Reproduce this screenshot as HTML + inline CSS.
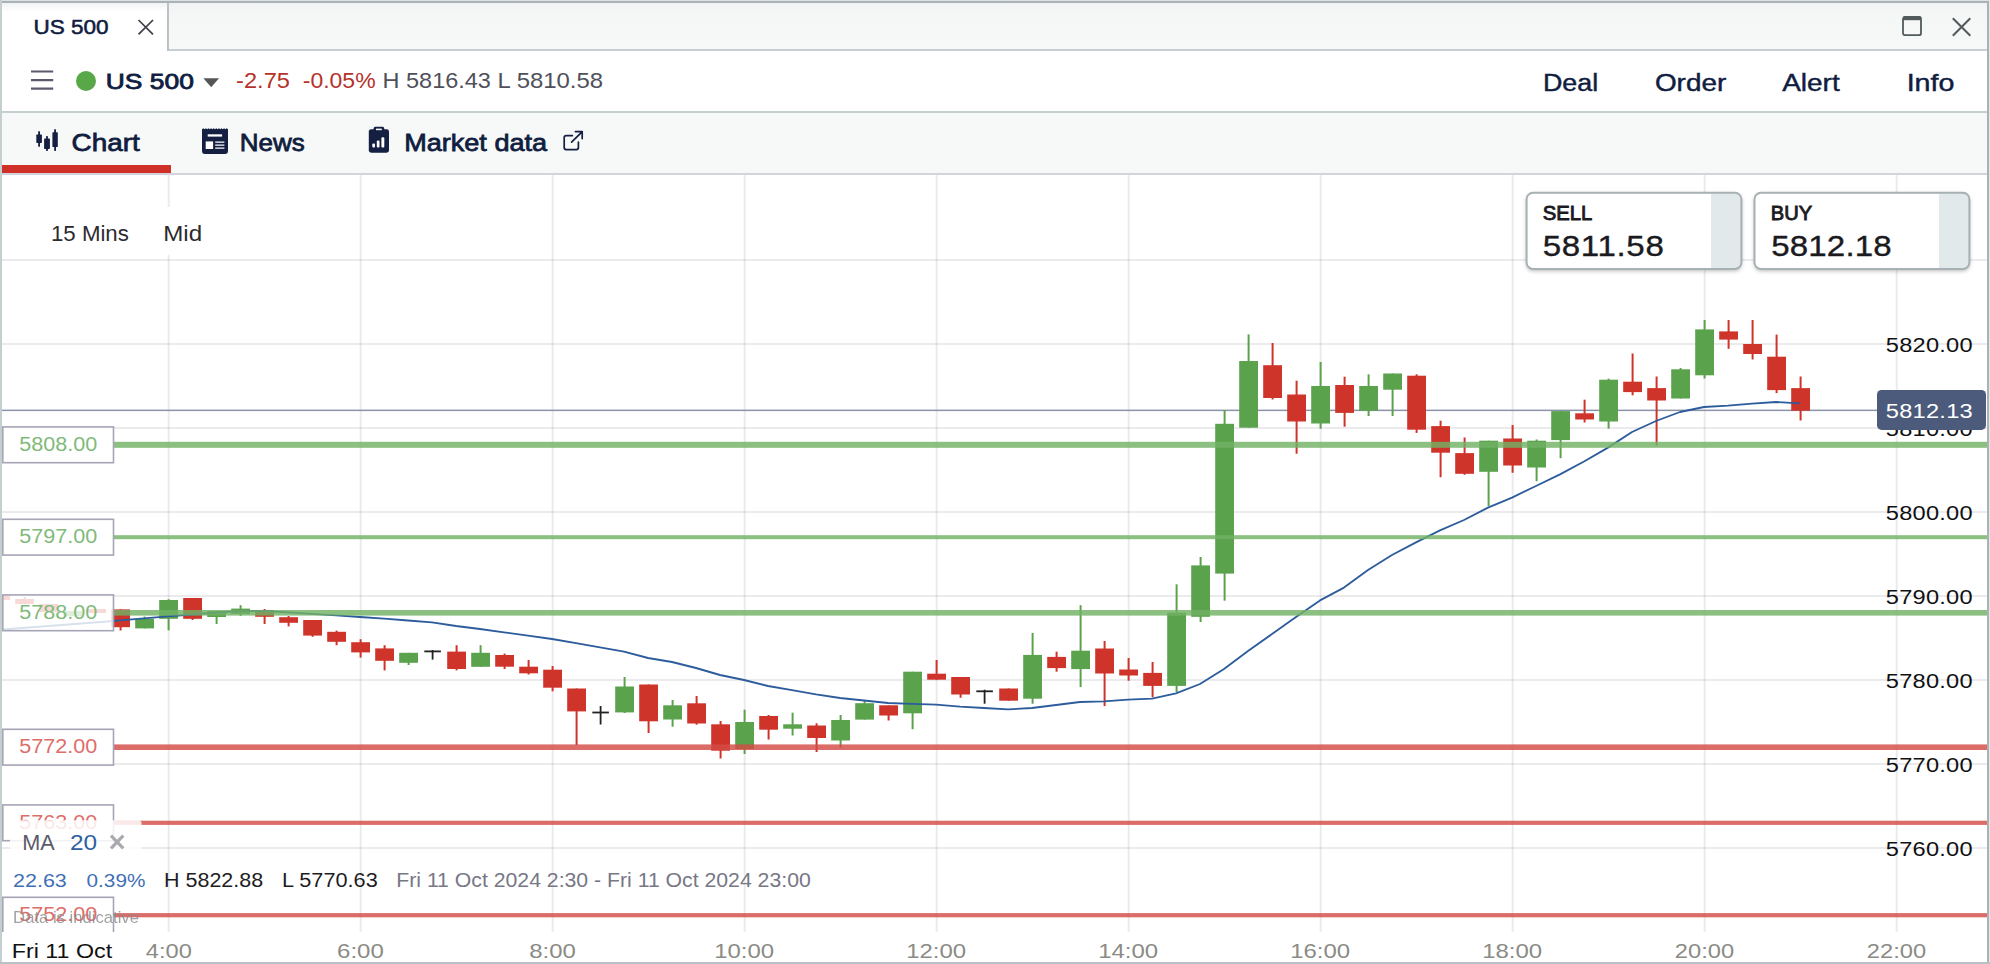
<!DOCTYPE html>
<html><head><meta charset="utf-8"><title>US 500</title>
<style>
html,body{margin:0;padding:0;background:#fff;}
body{width:1990px;height:964px;overflow:hidden;position:relative;font-family:"Liberation Sans",sans-serif;}
.abs{position:absolute;}
svg text{font-family:"Liberation Sans",sans-serif;}
.chart{position:absolute;left:0;top:0;}
.tabbar{left:0;top:0;width:1990px;height:51px;background:linear-gradient(#eef1f2 0,#f5f7f7 14px,#f7f9f9 100%);}
.tabbar .bb{position:absolute;left:167px;right:0;top:49px;height:2px;background:#c8cfd2;}
.tab1{left:2px;top:3px;width:165px;height:48px;background:linear-gradient(#f0f3f4,#fff 9px);border-right:2px solid #b9c2c5;}
.row2{left:0;top:51px;width:1990px;height:60px;background:#fff;border-bottom:2px solid #c5cfd0;}
.row3{left:0;top:113px;width:1990px;height:60px;background:#f7f9f8;border-bottom:2px solid #d3d3d9;}
.frame-l{left:0;top:0;width:1.9px;height:964px;background:#c5cfd0;}
.frame-t{left:0;top:0;width:1990px;height:3px;background:linear-gradient(#dce2e4 0,#dce2e4 1px,#aab2b5 1.2px,#aab2b5 100%);}
.frame-r{left:1987.2px;top:2px;width:1.6px;height:962px;background:#aab2b6;}
.frame-r2{left:1988.8px;top:0;width:1.2px;height:964px;background:#e4e8ea;}
.frame-b{left:0;top:962px;width:1990px;height:2px;background:#b9c1c4;}
</style></head><body>
<svg class="chart" width="1990" height="964" viewBox="0 0 1990 964">
<g stroke="rgba(60,60,90,0.10)" stroke-width="2" fill="none">
<line x1="2" x2="1987" y1="260.0" y2="260.0"/>
<line x1="2" x2="1987" y1="344.0" y2="344.0"/>
<line x1="2" x2="1987" y1="428.0" y2="428.0"/>
<line x1="2" x2="1987" y1="512.0" y2="512.0"/>
<line x1="2" x2="1987" y1="596.0" y2="596.0"/>
<line x1="2" x2="1987" y1="680.0" y2="680.0"/>
<line x1="2" x2="1987" y1="764.0" y2="764.0"/>
<line x1="2" x2="1987" y1="848.0" y2="848.0"/>
<line x1="168.7" x2="168.7" y1="175" y2="932"/>
<line x1="360.7" x2="360.7" y1="175" y2="932"/>
<line x1="552.7" x2="552.7" y1="175" y2="932"/>
<line x1="744.7" x2="744.7" y1="175" y2="932"/>
<line x1="936.7" x2="936.7" y1="175" y2="932"/>
<line x1="1128.7" x2="1128.7" y1="175" y2="932"/>
<line x1="1320.7" x2="1320.7" y1="175" y2="932"/>
<line x1="1512.7" x2="1512.7" y1="175" y2="932"/>
<line x1="1704.7" x2="1704.7" y1="175" y2="932"/>
<line x1="1896.7" x2="1896.7" y1="175" y2="932"/>
</g>
<rect x="2" y="409.6" width="1876" height="1.5" fill="#8b93a8"/>
<rect x="-0.4" y="595.0" width="2" height="5.0" fill="#cf342b"/>
<rect x="-8.8" y="595.0" width="18.8" height="5.0" fill="#cf342b"/>
<rect x="23.6" y="597.0" width="2" height="7.0" fill="#cf342b"/>
<rect x="15.2" y="599.0" width="18.8" height="5.0" fill="#cf342b"/>
<rect x="47.6" y="604.0" width="2" height="8.0" fill="#cf342b"/>
<rect x="39.2" y="604.0" width="18.8" height="8.0" fill="#cf342b"/>
<rect x="71.6" y="611.0" width="2" height="5.0" fill="#5ba24c"/>
<rect x="63.2" y="611.0" width="18.8" height="5.0" fill="#5ba24c"/>
<rect x="95.6" y="609.0" width="2" height="4.0" fill="#cf342b"/>
<rect x="87.2" y="609.0" width="18.8" height="4.0" fill="#cf342b"/>
<rect x="119.6" y="609.4" width="2" height="21.1" fill="#cf342b"/>
<rect x="111.2" y="609.4" width="18.8" height="17.8" fill="#cf342b"/>
<rect x="143.6" y="616.6" width="2" height="11.8" fill="#5ba24c"/>
<rect x="135.2" y="618.8" width="18.8" height="9.6" fill="#5ba24c"/>
<rect x="167.6" y="599.2" width="2" height="31.2" fill="#5ba24c"/>
<rect x="159.2" y="600.0" width="18.8" height="18.8" fill="#5ba24c"/>
<rect x="191.6" y="598.0" width="2" height="22.0" fill="#cf342b"/>
<rect x="183.2" y="598.0" width="18.8" height="20.8" fill="#cf342b"/>
<rect x="215.6" y="611.0" width="2" height="13.0" fill="#5ba24c"/>
<rect x="207.2" y="611.0" width="18.8" height="6.0" fill="#5ba24c"/>
<rect x="239.6" y="605.2" width="2" height="10.6" fill="#5ba24c"/>
<rect x="231.2" y="608.6" width="18.8" height="5.4" fill="#5ba24c"/>
<rect x="263.6" y="609.0" width="2" height="15.0" fill="#cf342b"/>
<rect x="255.2" y="610.0" width="18.8" height="6.8" fill="#cf342b"/>
<rect x="287.6" y="616.0" width="2" height="10.4" fill="#cf342b"/>
<rect x="279.2" y="617.2" width="18.8" height="5.6" fill="#cf342b"/>
<rect x="311.6" y="620.0" width="2" height="16.8" fill="#cf342b"/>
<rect x="303.2" y="620.0" width="18.8" height="15.6" fill="#cf342b"/>
<rect x="335.6" y="630.6" width="2" height="14.6" fill="#cf342b"/>
<rect x="327.2" y="631.8" width="18.8" height="10.0" fill="#cf342b"/>
<rect x="359.6" y="639.2" width="2" height="18.4" fill="#cf342b"/>
<rect x="351.2" y="642.2" width="18.8" height="10.2" fill="#cf342b"/>
<rect x="383.6" y="645.2" width="2" height="25.2" fill="#cf342b"/>
<rect x="375.2" y="648.4" width="18.8" height="12.4" fill="#cf342b"/>
<rect x="407.6" y="652.8" width="2" height="12.2" fill="#5ba24c"/>
<rect x="399.2" y="652.8" width="18.8" height="10.0" fill="#5ba24c"/>
<rect x="424.3" y="650.5" width="16.6" height="1.8" fill="#222"/>
<rect x="431.7" y="650.0" width="1.8" height="9.6" fill="#222"/>
<rect x="455.6" y="645.2" width="2" height="25.2" fill="#cf342b"/>
<rect x="447.2" y="651.6" width="18.8" height="17.4" fill="#cf342b"/>
<rect x="479.6" y="645.2" width="2" height="21.6" fill="#5ba24c"/>
<rect x="471.2" y="652.8" width="18.8" height="14.0" fill="#5ba24c"/>
<rect x="503.6" y="653.6" width="2" height="15.4" fill="#cf342b"/>
<rect x="495.2" y="655.0" width="18.8" height="11.7" fill="#cf342b"/>
<rect x="527.6" y="660.0" width="2" height="14.5" fill="#cf342b"/>
<rect x="519.2" y="666.7" width="18.8" height="6.6" fill="#cf342b"/>
<rect x="551.6" y="666.0" width="2" height="25.3" fill="#cf342b"/>
<rect x="543.2" y="669.7" width="18.8" height="18.0" fill="#cf342b"/>
<rect x="575.6" y="688.5" width="2" height="56.5" fill="#cf342b"/>
<rect x="567.2" y="688.5" width="18.8" height="22.9" fill="#cf342b"/>
<rect x="592.3" y="711.6" width="16.6" height="1.8" fill="#222"/>
<rect x="599.7" y="706.0" width="1.8" height="18.5" fill="#222"/>
<rect x="623.6" y="677.0" width="2" height="36.0" fill="#5ba24c"/>
<rect x="615.2" y="686.5" width="18.8" height="25.9" fill="#5ba24c"/>
<rect x="647.6" y="684.5" width="2" height="48.5" fill="#cf342b"/>
<rect x="639.2" y="684.5" width="18.8" height="36.8" fill="#cf342b"/>
<rect x="671.6" y="700.0" width="2" height="26.7" fill="#5ba24c"/>
<rect x="663.2" y="705.3" width="18.8" height="14.2" fill="#5ba24c"/>
<rect x="695.6" y="696.0" width="2" height="28.7" fill="#cf342b"/>
<rect x="687.2" y="703.3" width="18.8" height="20.2" fill="#cf342b"/>
<rect x="719.6" y="721.0" width="2" height="37.5" fill="#cf342b"/>
<rect x="711.2" y="724.3" width="18.8" height="26.4" fill="#cf342b"/>
<rect x="743.6" y="709.7" width="2" height="44.3" fill="#5ba24c"/>
<rect x="735.2" y="722.0" width="18.8" height="27.0" fill="#5ba24c"/>
<rect x="767.6" y="715.0" width="2" height="24.5" fill="#cf342b"/>
<rect x="759.2" y="716.0" width="18.8" height="13.7" fill="#cf342b"/>
<rect x="791.6" y="712.7" width="2" height="22.8" fill="#5ba24c"/>
<rect x="783.2" y="724.3" width="18.8" height="4.4" fill="#5ba24c"/>
<rect x="815.6" y="723.3" width="2" height="28.7" fill="#cf342b"/>
<rect x="807.2" y="725.5" width="18.8" height="12.5" fill="#cf342b"/>
<rect x="839.6" y="715.0" width="2" height="32.7" fill="#5ba24c"/>
<rect x="831.2" y="720.0" width="18.8" height="20.5" fill="#5ba24c"/>
<rect x="863.6" y="701.0" width="2" height="18.6" fill="#5ba24c"/>
<rect x="855.2" y="703.2" width="18.8" height="16.4" fill="#5ba24c"/>
<rect x="887.6" y="705.3" width="2" height="15.2" fill="#cf342b"/>
<rect x="879.2" y="705.3" width="18.8" height="10.2" fill="#cf342b"/>
<rect x="911.6" y="671.7" width="2" height="57.5" fill="#5ba24c"/>
<rect x="903.2" y="671.7" width="18.8" height="41.6" fill="#5ba24c"/>
<rect x="935.6" y="660.0" width="2" height="19.7" fill="#cf342b"/>
<rect x="927.2" y="673.7" width="18.8" height="6.0" fill="#cf342b"/>
<rect x="959.6" y="677.0" width="2" height="20.7" fill="#cf342b"/>
<rect x="951.2" y="677.0" width="18.8" height="17.5" fill="#cf342b"/>
<rect x="976.3" y="690.4" width="16.6" height="1.8" fill="#222"/>
<rect x="983.7" y="689.7" width="1.8" height="14.0" fill="#222"/>
<rect x="1007.6" y="688.5" width="2" height="12.2" fill="#cf342b"/>
<rect x="999.2" y="688.5" width="18.8" height="12.2" fill="#cf342b"/>
<rect x="1031.6" y="632.9" width="2" height="70.8" fill="#5ba24c"/>
<rect x="1023.2" y="654.9" width="18.8" height="43.8" fill="#5ba24c"/>
<rect x="1055.6" y="651.7" width="2" height="20.0" fill="#cf342b"/>
<rect x="1047.2" y="656.9" width="18.8" height="11.2" fill="#cf342b"/>
<rect x="1079.6" y="605.2" width="2" height="81.9" fill="#5ba24c"/>
<rect x="1071.2" y="650.7" width="18.8" height="18.4" fill="#5ba24c"/>
<rect x="1103.6" y="641.0" width="2" height="65.1" fill="#cf342b"/>
<rect x="1095.2" y="648.5" width="18.8" height="25.0" fill="#cf342b"/>
<rect x="1127.6" y="658.0" width="2" height="22.7" fill="#cf342b"/>
<rect x="1119.2" y="669.5" width="18.8" height="6.0" fill="#cf342b"/>
<rect x="1151.6" y="662.0" width="2" height="35.1" fill="#cf342b"/>
<rect x="1143.2" y="672.9" width="18.8" height="13.0" fill="#cf342b"/>
<rect x="1175.6" y="584.3" width="2" height="107.8" fill="#5ba24c"/>
<rect x="1167.2" y="612.6" width="18.8" height="73.3" fill="#5ba24c"/>
<rect x="1199.6" y="557.0" width="2" height="65.0" fill="#5ba24c"/>
<rect x="1191.2" y="565.4" width="18.8" height="51.4" fill="#5ba24c"/>
<rect x="1223.6" y="410.2" width="2" height="190.5" fill="#5ba24c"/>
<rect x="1215.2" y="423.8" width="18.8" height="149.8" fill="#5ba24c"/>
<rect x="1247.6" y="334.4" width="2" height="93.3" fill="#5ba24c"/>
<rect x="1239.2" y="361.0" width="18.8" height="66.7" fill="#5ba24c"/>
<rect x="1271.6" y="343.0" width="2" height="56.5" fill="#cf342b"/>
<rect x="1263.2" y="365.2" width="18.8" height="32.8" fill="#cf342b"/>
<rect x="1295.6" y="380.7" width="2" height="73.0" fill="#cf342b"/>
<rect x="1287.2" y="394.5" width="18.8" height="27.0" fill="#cf342b"/>
<rect x="1319.6" y="362.0" width="2" height="66.7" fill="#5ba24c"/>
<rect x="1311.2" y="386.0" width="18.8" height="37.5" fill="#5ba24c"/>
<rect x="1343.6" y="376.7" width="2" height="50.0" fill="#cf342b"/>
<rect x="1335.2" y="385.0" width="18.8" height="27.9" fill="#cf342b"/>
<rect x="1367.6" y="374.3" width="2" height="41.7" fill="#5ba24c"/>
<rect x="1359.2" y="386.0" width="18.8" height="24.7" fill="#5ba24c"/>
<rect x="1391.6" y="373.5" width="2" height="42.5" fill="#5ba24c"/>
<rect x="1383.2" y="373.5" width="18.8" height="16.2" fill="#5ba24c"/>
<rect x="1415.6" y="374.3" width="2" height="58.6" fill="#cf342b"/>
<rect x="1407.2" y="375.7" width="18.8" height="54.0" fill="#cf342b"/>
<rect x="1439.6" y="420.7" width="2" height="56.5" fill="#cf342b"/>
<rect x="1431.2" y="426.1" width="18.8" height="26.6" fill="#cf342b"/>
<rect x="1463.6" y="437.5" width="2" height="37.3" fill="#cf342b"/>
<rect x="1455.2" y="453.1" width="18.8" height="20.7" fill="#cf342b"/>
<rect x="1487.6" y="440.7" width="2" height="65.5" fill="#5ba24c"/>
<rect x="1479.2" y="440.7" width="18.8" height="31.1" fill="#5ba24c"/>
<rect x="1511.6" y="425.0" width="2" height="47.8" fill="#cf342b"/>
<rect x="1503.2" y="438.5" width="18.8" height="27.0" fill="#cf342b"/>
<rect x="1535.6" y="439.5" width="2" height="41.7" fill="#5ba24c"/>
<rect x="1527.2" y="440.7" width="18.8" height="26.8" fill="#5ba24c"/>
<rect x="1559.6" y="411.1" width="2" height="47.1" fill="#5ba24c"/>
<rect x="1551.2" y="411.1" width="18.8" height="29.0" fill="#5ba24c"/>
<rect x="1583.6" y="399.7" width="2" height="22.8" fill="#cf342b"/>
<rect x="1575.2" y="413.3" width="18.8" height="6.2" fill="#cf342b"/>
<rect x="1607.6" y="378.7" width="2" height="50.0" fill="#5ba24c"/>
<rect x="1599.2" y="379.7" width="18.8" height="41.8" fill="#5ba24c"/>
<rect x="1631.6" y="353.5" width="2" height="41.8" fill="#cf342b"/>
<rect x="1623.2" y="381.7" width="18.8" height="10.4" fill="#cf342b"/>
<rect x="1655.6" y="376.5" width="2" height="69.0" fill="#cf342b"/>
<rect x="1647.2" y="388.1" width="18.8" height="12.4" fill="#cf342b"/>
<rect x="1679.6" y="368.0" width="2" height="30.5" fill="#5ba24c"/>
<rect x="1671.2" y="369.3" width="18.8" height="29.2" fill="#5ba24c"/>
<rect x="1703.6" y="320.0" width="2" height="58.5" fill="#5ba24c"/>
<rect x="1695.2" y="329.4" width="18.8" height="45.9" fill="#5ba24c"/>
<rect x="1727.6" y="320.0" width="2" height="28.8" fill="#cf342b"/>
<rect x="1719.2" y="331.4" width="18.8" height="8.2" fill="#cf342b"/>
<rect x="1751.6" y="320.0" width="2" height="39.5" fill="#cf342b"/>
<rect x="1743.2" y="344.0" width="18.8" height="10.0" fill="#cf342b"/>
<rect x="1775.6" y="334.6" width="2" height="58.5" fill="#cf342b"/>
<rect x="1767.2" y="356.7" width="18.8" height="33.4" fill="#cf342b"/>
<rect x="1799.6" y="376.5" width="2" height="44.0" fill="#cf342b"/>
<rect x="1791.2" y="388.1" width="18.8" height="22.6" fill="#cf342b"/>
<polyline points="2.5,629.5 114,621 120,620.3 168,616.4 192,614.5 216,612.5 240,611 264,611 288,612.3 312,613.8 336,615.3 360,617 384,618.7 408,620.5 432,622.4 456,626 480,629 504,632.3 528,635.6 552,639 576,643.2 600,647.4 624,651.6 648,658 672,662 696,668 720,675 744,680 768,686 792,690.2 816,694.4 840,698 864,700.5 888,703 912,703.8 936,704.6 960,706.6 984,708 1008,709.4 1032,708 1056,705 1080,702 1104,701.4 1128,699.6 1152,698.6 1176,693.4 1200,684 1224,669 1248,651 1272,634 1296,617 1320,600.4 1344,587.6 1368,570 1392,555 1416,542.4 1440,530.4 1464,520 1488,507.6 1512,497.6 1536,486 1560,474.4 1584,461.5 1608,447.6 1632,432 1656,421 1680,412 1704,407 1728,405.6 1752,403.6 1776,402 1800,403.4" fill="none" stroke="#2d5c9c" stroke-width="1.85" stroke-linejoin="round"/>
<rect x="114" y="441.8" width="1873.5" height="6" fill="rgba(114,178,101,0.82)"/>
<rect x="114" y="535.2" width="1873.5" height="4" fill="rgba(114,178,101,0.82)"/>
<rect x="114" y="610.0" width="1873.5" height="5.6" fill="rgba(114,178,101,0.82)"/>
<rect x="114" y="744.4" width="1873.5" height="5.6" fill="rgba(211,76,71,0.82)"/>
<rect x="114" y="820.7" width="1873.5" height="4.2" fill="rgba(211,76,71,0.82)"/>
<rect x="114" y="913.1" width="1873.5" height="4.2" fill="rgba(211,76,71,0.82)"/>
<rect x="2.8" y="426.9" width="110.7" height="35.8" fill="rgba(255,255,255,0.82)" stroke="#a5a5b5" stroke-width="1.6"/>
<text transform="matrix(1.1066 0 0 1 19.14 450.70)" font-size="19.52" fill="#7fba7a">5808.00</text>
<rect x="2.8" y="519.3" width="110.7" height="35.8" fill="rgba(255,255,255,0.82)" stroke="#a5a5b5" stroke-width="1.6"/>
<text transform="matrix(1.1066 0 0 1 19.14 543.10)" font-size="19.52" fill="#7fba7a">5797.00</text>
<rect x="2.8" y="594.9" width="110.7" height="35.8" fill="rgba(255,255,255,0.82)" stroke="#a5a5b5" stroke-width="1.6"/>
<text transform="matrix(1.1066 0 0 1 19.14 618.70)" font-size="19.52" fill="#7fba7a">5788.00</text>
<rect x="2.8" y="729.3" width="110.7" height="35.8" fill="rgba(255,255,255,0.82)" stroke="#a5a5b5" stroke-width="1.6"/>
<text transform="matrix(1.1066 0 0 1 19.14 753.10)" font-size="19.52" fill="#de6e69">5772.00</text>
<rect x="2.8" y="804.9" width="110.7" height="35.8" fill="rgba(255,255,255,0.82)" stroke="#a5a5b5" stroke-width="1.6"/>
<text transform="matrix(1.1066 0 0 1 19.14 828.70)" font-size="19.52" fill="#de6e69">5763.00</text>
<rect x="2.8" y="897.3" width="110.7" height="35.8" fill="rgba(255,255,255,0.82)" stroke="#a5a5b5" stroke-width="1.6"/>
<text transform="matrix(1.1066 0 0 1 19.14 921.10)" font-size="19.52" fill="#de6e69">5752.00</text>
<rect x="10" y="820.3" width="131.5" height="36" rx="3" fill="rgba(255,255,255,0.85)"/>
<rect x="2" y="932" width="1985.5" height="30" fill="#fff"/>
<rect x="10" y="207" width="212" height="47.7" fill="rgba(255,255,255,0.96)"/>
<text transform="matrix(1.1500 0 0 1 1885.86 351.60)" font-size="20.53" fill="#111" letter-spacing="0.205">5820.00</text>
<text transform="matrix(1.1500 0 0 1 1885.86 435.60)" font-size="20.53" fill="#111" letter-spacing="0.205">5810.00</text>
<text transform="matrix(1.1500 0 0 1 1885.86 519.60)" font-size="20.53" fill="#111" letter-spacing="0.205">5800.00</text>
<text transform="matrix(1.1500 0 0 1 1885.86 603.60)" font-size="20.53" fill="#111" letter-spacing="0.205">5790.00</text>
<text transform="matrix(1.1500 0 0 1 1885.86 687.60)" font-size="20.53" fill="#111" letter-spacing="0.205">5780.00</text>
<text transform="matrix(1.1500 0 0 1 1885.86 771.60)" font-size="20.53" fill="#111" letter-spacing="0.205">5770.00</text>
<text transform="matrix(1.1500 0 0 1 1885.86 855.60)" font-size="20.53" fill="#111" letter-spacing="0.205">5760.00</text>
<rect x="1877" y="389.9" width="109" height="40" rx="4.6" fill="#4c5b7b"/>
<text transform="matrix(1.1500 0 0 1 1885.86 417.60)" font-size="20.53" fill="#fff" letter-spacing="0.217">5812.13</text>
<text transform="matrix(1.1223 0 0 1 145.75 957.60)" font-size="21.10" fill="#8b8b86">4:00</text>
<text transform="matrix(1.1384 0 0 1 337.10 957.60)" font-size="21.10" fill="#8b8b86">6:00</text>
<text transform="matrix(1.1344 0 0 1 529.26 957.60)" font-size="21.10" fill="#8b8b86">8:00</text>
<text transform="matrix(1.1358 0 0 1 714.16 957.60)" font-size="21.10" fill="#8b8b86">10:00</text>
<text transform="matrix(1.1358 0 0 1 906.16 957.60)" font-size="21.10" fill="#8b8b86">12:00</text>
<text transform="matrix(1.1358 0 0 1 1098.16 957.60)" font-size="21.10" fill="#8b8b86">14:00</text>
<text transform="matrix(1.1358 0 0 1 1290.16 957.60)" font-size="21.10" fill="#8b8b86">16:00</text>
<text transform="matrix(1.1358 0 0 1 1482.16 957.60)" font-size="21.10" fill="#8b8b86">18:00</text>
<text transform="matrix(1.1233 0 0 1 1674.81 957.60)" font-size="21.10" fill="#8b8b86">20:00</text>
<text transform="matrix(1.1233 0 0 1 1866.81 957.60)" font-size="21.10" fill="#8b8b86">22:00</text>
<text transform="matrix(1.1531 0 0 1 11.76 957.50)" font-size="20.18" fill="#111">Fri 11 Oct</text>
<text transform="matrix(1.0376 0 0 1 51.00 241.20)" font-size="21.43" fill="#2b2b2f">15 Mins</text>
<text transform="matrix(1.1264 0 0 1 163.19 241.20)" font-size="21.43" fill="#2b2b2f">Mid</text>
<text transform="matrix(0.9978 0 0 1 22.30 849.70)" font-size="21.70" fill="#5a5a68">MA</text>
<text transform="matrix(1.1423 0 0 1 69.88 849.70)" font-size="21.39" fill="#2f5f9f">20</text>
<path d="M111 835.7 L123.3 848.4 M123.3 835.7 L111 848.4" stroke="#a9a9ae" stroke-width="3.2" fill="none"/>
<text transform="matrix(1.1175 0 0 1 13.03 887.40)" font-size="19.23" fill="#3f70b6">22.63</text>
<text transform="matrix(1.0794 0 0 1 86.57 887.40)" font-size="19.23" fill="#3f70b6">0.39%</text>
<text transform="matrix(1.1013 0 0 1 164.01 887.40)" font-size="19.51" fill="#1d1d1f">H 5822.88</text>
<text transform="matrix(1.1129 0 0 1 281.99 887.40)" font-size="19.51" fill="#1d1d1f">L 5770.63</text>
<text transform="matrix(1.0892 0 0 1 396.23 887.40)" font-size="19.51" fill="#777785">Fri 11 Oct 2024 2:30 - Fri 11 Oct 2024 23:00</text>
<text transform="matrix(1.0397 0 0 1 13.11 922.60)" font-size="16.02" fill="#8a8a8e" opacity="0.8">Data is indicative</text>
</svg>
<div class="abs tabbar"><div class="bb"></div></div>
<div class="abs tab1"></div>
<svg class="abs" style="left:136px;top:17px" width="20" height="20"><path d="M2.5 3 L17 17.3 M17 3 L2.5 17.3" stroke="#3f3f4b" stroke-width="1.7" fill="none"/></svg>
<svg class="abs" style="left:1898px;top:12px" width="80" height="28"><rect x="5" y="5" width="18" height="18.2" rx="2" fill="none" stroke="#525a5c" stroke-width="1.8"/><rect x="5" y="4.6" width="18" height="3.6" fill="#525a5c"/><path d="M54.8 6.3 L72.3 23.8 M72.3 6.3 L54.8 23.8" stroke="#525a5c" stroke-width="2" fill="none"/></svg>

<div class="abs row2"></div>
<svg class="abs" style="left:28px;top:66px" width="30" height="30"><path d="M3 5.5 H25.2 M3 14.1 H25.2 M3 22.6 H25.2" stroke="#5d5a6e" stroke-width="2.1" fill="none"/></svg>
<div class="abs" style="left:75.9px;top:70.9px;width:20.4px;height:20.4px;border-radius:50%;background:#58a748;"></div>
<svg class="abs" style="left:202px;top:76px" width="20" height="14"><path d="M1.4 2.2 H17 L9.2 11.3 Z" fill="#555"/></svg>

<div class="abs row3"></div>
<div class="abs" style="left:2px;top:165.4px;width:169px;height:7.4px;background:#cf3129;"></div>
<svg class="abs" style="left:30px;top:124px" width="36" height="32" fill="#141f42"><rect x="6.3" y="10.6" width="5.6" height="8.3" rx=".6"/><rect x="8.2" y="7.3" width="1.8" height="15.4"/><rect x="14.1" y="14.4" width="5.8" height="10.5" rx=".6"/><rect x="16.1" y="12.1" width="1.8" height="14.8"/><rect x="22.4" y="8.3" width="5.4" height="14.7" rx=".6"/><rect x="24.2" y="5.3" width="1.8" height="21.6"/></svg>
<svg class="abs" style="left:198px;top:124px" width="36" height="34"><path d="M4 5.2 l1.3 -1 1.3 1 1.3 -1 1.3 1 1.3 -1 1.3 1 1.3 -1 1.3 1 1.3 -1 1.3 1 1.3 -1 1.3 1 1.3 -1 1.3 1 1.3 -1 1.3 1 1.3 -1 1.3 1 1.3 -1 1.3 1 V27 a3 3 0 0 1 -3 3 H7 a3 3 0 0 1 -3 -3 Z" fill="#141f42"/><rect x="9.7" y="10.3" width="14.4" height="2.3" fill="#fff"/><rect x="7.7" y="17.4" width="7.4" height="7.6" fill="#fff"/><rect x="17.2" y="17.4" width="9.2" height="1.5" fill="#d5d8e0"/><rect x="17.2" y="20.4" width="9.2" height="1.5" fill="#d5d8e0"/><rect x="17.2" y="23.4" width="9.2" height="1.5" fill="#d5d8e0"/></svg>
<svg class="abs" style="left:364px;top:122px" width="30" height="34"><rect x="4.8" y="7.2" width="20.2" height="23.5" rx="2.4" fill="#141f42"/><rect x="9.6" y="4.8" width="10.6" height="5" rx="1.6" fill="#141f42"/><rect x="12" y="6.6" width="5.8" height="1.6" fill="#f6f8f8"/><rect x="8.3" y="21.6" width="2.7" height="4" rx="1" fill="#fff"/><rect x="12.8" y="18.6" width="2.7" height="7" rx="1" fill="#fff"/><rect x="17.4" y="15.3" width="2.9" height="10.3" rx="1" fill="#fff"/></svg>
<svg class="abs" style="left:560px;top:127px" width="28" height="28" fill="none" stroke="#141f42" stroke-width="1.7" stroke-linecap="round" stroke-linejoin="round"><path d="M12.4 8.6 H6.2 a2 2 0 0 0 -2 2 V20.6 a2 2 0 0 0 2 2 H16.4 a2 2 0 0 0 2 -2 V15"/><path d="M11.6 15.2 L22 4.8 M15.4 4.6 H22.2 V11.6"/></svg>

<svg class="chart" width="1990" height="290" viewBox="0 0 1990 290" style="overflow:visible">
<defs><filter id="sh" x="-10%" y="-20%" width="120%" height="150%"><feDropShadow dx="0" dy="2" stdDeviation="2" flood-color="#000" flood-opacity=".28"/></filter>
<clipPath id="c1"><rect x="1526.6" y="192.7" width="214.8" height="76.2" rx="6"/></clipPath><clipPath id="c2"><rect x="1754.5" y="192.7" width="214.9" height="76.2" rx="6"/></clipPath></defs>
<rect x="1526.6" y="192.7" width="214.8" height="76.2" rx="6.5" fill="#fff" filter="url(#sh)"/>
<rect x="1711" y="192" width="31" height="78" fill="#e2e9eb" clip-path="url(#c1)"/>
<rect x="1526.6" y="192.7" width="214.8" height="76.2" rx="6.5" fill="none" stroke="#a7b0b3" stroke-width="2"/>
<rect x="1754.5" y="192.7" width="214.9" height="76.2" rx="6.5" fill="#fff" filter="url(#sh)"/>
<rect x="1939" y="192" width="31" height="78" fill="#e2e9eb" clip-path="url(#c2)"/>
<rect x="1754.5" y="192.7" width="214.9" height="76.2" rx="6.5" fill="none" stroke="#a7b0b3" stroke-width="2"/>
</svg>
<svg class="chart" width="1990" height="280" viewBox="0 0 1990 280">
<text transform="matrix(1.0781 0 0 1 33.45 34.33)" font-size="20.90" fill="#101d3f" stroke="#101d3f" stroke-width="0.55">US 500</text>
<text transform="matrix(1.1500 0 0 1 105.70 89.48)" font-size="22.94" fill="#101d3f" stroke="#101d3f" stroke-width="0.85" letter-spacing="0.037">US 500</text>
<text transform="matrix(1.1032 0 0 1 236.08 88.20)" font-size="21.41" fill="#b5312b">-2.75</text>
<text transform="matrix(1.0733 0 0 1 302.80 88.20)" font-size="21.41" fill="#b5312b">-0.05%</text>
<text transform="matrix(1.0976 0 0 1 382.54 88.20)" font-size="21.41" fill="#50505a">H 5816.43</text>
<text transform="matrix(1.1180 0 0 1 497.61 88.20)" font-size="21.41" fill="#50505a">L 5810.58</text>
<text transform="matrix(1.0932 0 0 1 1542.99 90.58)" font-size="24.54" fill="#101d3f" stroke="#101d3f" stroke-width="0.45">Deal</text>
<text transform="matrix(1.1367 0 0 1 1654.92 90.58)" font-size="24.54" fill="#101d3f" stroke="#101d3f" stroke-width="0.45">Order</text>
<text transform="matrix(1.1419 0 0 1 1782.13 90.58)" font-size="24.54" fill="#101d3f" stroke="#101d3f" stroke-width="0.45">Alert</text>
<text transform="matrix(1.1681 0 0 1 1906.65 90.58)" font-size="24.54" fill="#101d3f" stroke="#101d3f" stroke-width="0.45">Info</text>
<text transform="matrix(1.1271 0 0 1 71.50 150.50)" font-size="24.76" fill="#101d3f" stroke="#101d3f" stroke-width="0.8">Chart</text>
<text transform="matrix(1.0488 0 0 1 239.84 150.50)" font-size="24.76" fill="#101d3f" stroke="#101d3f" stroke-width="0.8">News</text>
<text transform="matrix(1.0936 0 0 1 404.14 150.50)" font-size="24.76" fill="#101d3f" stroke="#101d3f" stroke-width="0.8">Market data</text>
<text transform="matrix(0.9948 0 0 1 1542.80 220.35)" font-size="20.39" fill="#1b1b1f" stroke="#1b1b1f" stroke-width="0.9">SELL</text>
<text transform="matrix(0.9860 0 0 1 1770.77 220.35)" font-size="20.39" fill="#1b1b1f" stroke="#1b1b1f" stroke-width="0.9">BUY</text>
<text transform="matrix(1.1500 0 0 1 1542.65 256.02)" font-size="28.76" fill="#1b1b1f" stroke="#1b1b1f" stroke-width="0.35" letter-spacing="0.596">5811.58</text>
<text transform="matrix(1.1500 0 0 1 1771.25 256.02)" font-size="28.76" fill="#1b1b1f" stroke="#1b1b1f" stroke-width="0.35" letter-spacing="0.128">5812.18</text>
</svg>
<div class="abs frame-t"></div><div class="abs frame-l"></div><div class="abs frame-r"></div><div class="abs frame-r2"></div><div class="abs frame-b"></div>
</body></html>
